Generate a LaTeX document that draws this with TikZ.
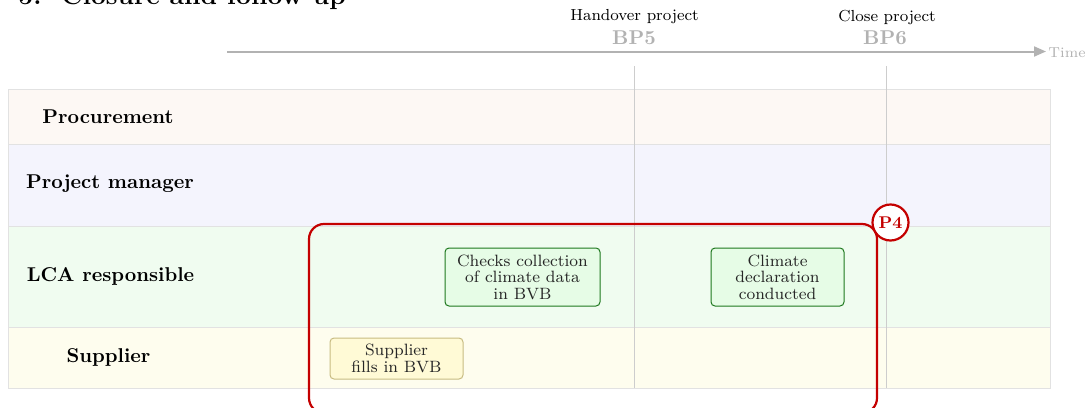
\documentclass[tikz,border=0pt]{standalone}
\usetikzlibrary{arrows.meta}
\definecolor{laneProc}{RGB}{253,248,244}
\definecolor{lanePM}{RGB}{244,244,253}
\definecolor{laneLCA}{RGB}{240,252,240}
\definecolor{laneSup}{RGB}{254,253,238}
\definecolor{laneEdge}{RGB}{226,226,226}
\definecolor{msLine}{RGB}{205,205,205}
\definecolor{axisGray}{RGB}{178,178,178}
\definecolor{taskGreenFill}{RGB}{230,252,230}
\definecolor{taskGreenEdge}{RGB}{30,120,30}
\definecolor{taskYellowFill}{RGB}{255,250,214}
\definecolor{taskYellowEdge}{RGB}{200,188,130}
\definecolor{phaseRed}{RGB}{196,0,0}
\begin{document}
\begin{tikzpicture}[x=0.5pt,y=-0.5pt,
  lane/.style={draw=laneEdge,line width=0.5pt},
  lanelabel/.style={font=\fontsize{10}{12}\selectfont\bfseries,inner sep=0pt},
  mslabel/.style={font=\fontsize{8}{9.5}\selectfont,inner sep=0pt},
  mscode/.style={font=\fontsize{10}{12}\selectfont\bfseries,text=axisGray,inner sep=0pt},
  msline/.style={draw=msLine,line width=0.4pt},
  taskbox/.style={rounded corners=2pt,line width=0.5pt,align=center,
    font=\fontsize{8.2}{8.3}\selectfont,inner sep=0pt,text=black!85},
  greentask/.style={taskbox,draw=taskGreenEdge,fill=taskGreenFill},
  yellowtask/.style={taskbox,draw=taskYellowEdge,fill=taskYellowFill},
  phaseframe/.style={draw=phaseRed,line width=1.1pt,rounded corners=7.5pt},
  phasetag/.style={circle,draw=phaseRed,line width=1.1pt,fill=white,
    minimum size=18pt,inner sep=0pt,text=phaseRed,
    font=\fontsize{8.5}{10}\selectfont\bfseries}]
\useasboundingbox (0,0) rectangle (1091,407);

% section title
\node[anchor=base west,inner sep=0pt,font=\fontsize{13.2}{15}\selectfont\bfseries]
  (title) at (18,4.7) {5.\ \ Closure and follow-up};

% swimlanes
\path[lane,fill=laneProc] (8,89) rectangle (1050,144);
\path[lane,fill=lanePM]   (8,144) rectangle (1050,226);
\path[lane,fill=laneLCA]  (8,226) rectangle (1050,327);
\path[lane,fill=laneSup]  (8,327) rectangle (1050,388);

\node[lanelabel] (procurement) at (108,117) {Procurement};
\node[lanelabel] (pm) at (110,184) {Project manager};
\node[lanelabel] (lca) at (110.5,276) {LCA responsible};
\node[lanelabel] (supplier) at (108.5,357) {Supplier};

% time axis
\coordinate (axisstart) at (227,51.5);
\coordinate (axisend) at (1046,51.5);
\draw[draw=axisGray,line width=1pt,-{Triangle[length=6pt,width=5pt]}] (axisstart) -- (axisend);
\node[anchor=east,inner sep=0pt,font=\fontsize{7.2}{8}\selectfont,text=axisGray]
  (time) at (1086,53) {Time};

% milestones
\node[mslabel] (bp5name) at (634.5,17) {Handover project};
\node[mscode]  (bp5) at (634,37.5) {BP5};
\node[mslabel] (bp6name) at (887,17) {Close project};
\node[mscode]  (bp6) at (885,37.5) {BP6};
\coordinate (bp5top) at (634.5,66);
\coordinate (bp5bot) at (634.5,388);
\coordinate (bp6top) at (886.5,66);
\coordinate (bp6bot) at (886.5,388);
\draw[msline] (bp5top) -- (bp5bot);
\draw[msline] (bp6top) -- (bp6bot);

% tasks
\node[greentask,minimum width=77.5pt,minimum height=29pt] (checks) at (522.5,277)
  {Checks collection\\of climate data\\in BVB};
\node[greentask,minimum width=66.5pt,minimum height=29pt] (declaration) at (777.5,277)
  {Climate\\declaration\\conducted};
\node[yellowtask,minimum width=66.5pt,minimum height=20.5pt] (fills) at (396.5,358.5)
  {Supplier\\fills in BVB};

% phase P4
\draw[phaseframe] (309,224) rectangle (877,413);
\node[phasetag] (p4) at (890.5,222.5) {P4};
\end{tikzpicture}
\end{document}
